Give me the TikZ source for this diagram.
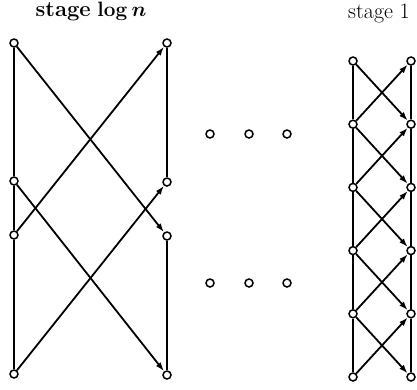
\documentclass[tikz,border=0pt]{standalone}
\usepackage{amsmath}
\usetikzlibrary{arrows.meta}
\tikzset{vtx/.style={circle,draw,fill=white,line width=1.5pt,inner sep=0pt,minimum size=8pt},
  arr/.style={-{Latex[length=9pt,width=6pt]}}}
\newcommand{\bigtxt}{\fontsize{22}{26}\selectfont}
\begin{document}
\begin{tikzpicture}[x=1pt,y=-1pt,line width=1.8pt]
\useasboundingbox (0,0) rectangle (417,389);
% stage titles
\node (t1) at (91,12) {\bigtxt\textbf{stage} $\boldsymbol{\log n}$};
\node (t2) at (379,13) {\bigtxt stage 1};
% stage log n
\node[vtx](a1)at(14,43){};
\node[vtx](a2)at(14,181){};
\node[vtx](a3)at(14,235){};
\node[vtx](a4)at(14,374){};
\node[vtx](b1)at(167,43){};
\node[vtx](b2)at(167,182){};
\node[vtx](b3)at(167,236){};
\node[vtx](b4)at(167,375){};
\draw(a1)--(a2);
\draw(a2)--(a3);
\draw(a3)--(a4);
\draw(b1)--(b2);
\draw(b3)--(b4);
\draw[arr](a1)--(b3);
\draw[arr](a3)--(b1);
\draw[arr](a2)--(b4);
\draw[arr](a4)--(b2);
% dots between the stages
\foreach \x [count=\k] in {210,249,287} {
  \node[vtx](e\k)at(\x,134){};
  \node[vtx](f\k)at(\x,283){};
}
% stage 1
\foreach \i in {1,...,6} {
  \node[vtx](c\i)at(353,{61+63.2*(\i-1)}){};
  \node[vtx](d\i)at(411,{61+63.2*(\i-1)}){};
}
\foreach \i/\j in {1/2,2/3,3/4,4/5,5/6} {
  \draw(c\i)--(c\j);
  \draw(d\i)--(d\j);
  \draw[arr](c\i)--(d\j);
  \draw[arr](c\j)--(d\i);
}
\end{tikzpicture}
\end{document}
